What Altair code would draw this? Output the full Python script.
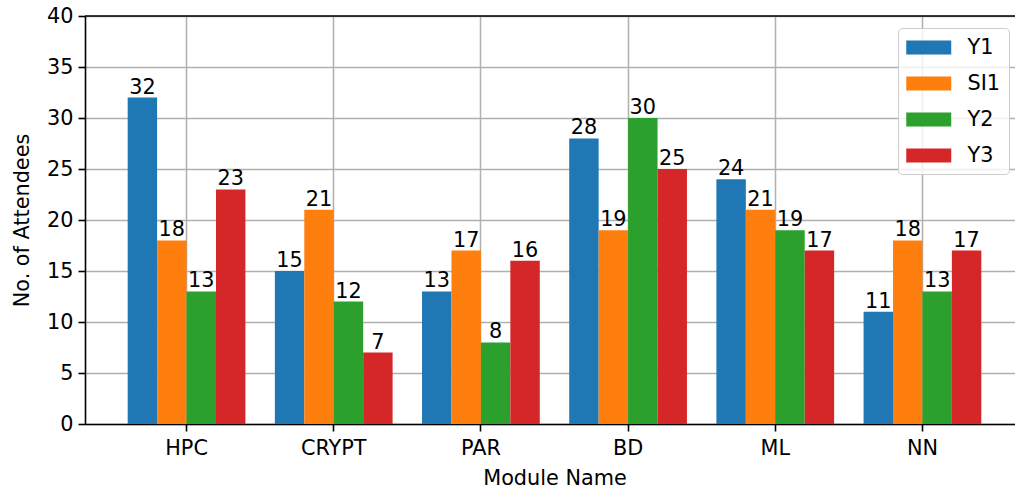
import altair as alt
import pandas as pd

# Attendance per module for each cohort
modules = ["HPC", "CRYPT", "PAR", "BD", "ML", "NN"]
series = ["Y1", "SI1", "Y2", "Y3"]
y1 = [32, 15, 13, 28, 24, 11]
si1 = [18, 21, 17, 19, 21, 18]
y2 = [13, 12, 8, 30, 19, 13]
y3 = [23, 7, 16, 25, 17, 17]
colors = ["#1f77b4", "#ff7f0e", "#2ca02c", "#d62728"]

rows = []
for name, vals in zip(series, [y1, si1, y2, y3]):
    for m, v in zip(modules, vals):
        rows.append({"Module": m, "Series": name, "Count": v})
df = pd.DataFrame(rows)

FONT = "DejaVu Sans"
FS = 20.8
W, H = 930, 408

x = alt.X(
    "Module:N",
    sort=modules,
    title="Module Name",
    scale=alt.Scale(range=[0, 939], paddingInner=0.2, paddingOuter=0.29),
    axis=alt.Axis(
        labelAngle=0,
        bandPosition=0.5,
        grid=True,
        tickSize=7,
        labelPadding=7,
        titlePadding=11,
    ),
)
xoff = alt.XOffset("Series:N", sort=series, scale=alt.Scale(paddingInner=0, paddingOuter=0))
y = alt.Y(
    "Count:Q",
    title="No. of Attendees",
    scale=alt.Scale(domain=[0, 40], nice=False),
    axis=alt.Axis(values=list(range(0, 41, 5)), tickSize=7, labelPadding=5, titlePadding=14),
)

base = alt.Chart(df)

bars = base.mark_bar().encode(
    x=x,
    xOffset=xoff,
    y=y,
    color=alt.Color(
        "Series:N",
        sort=series,
        scale=alt.Scale(domain=series, range=colors),
        legend=alt.Legend(
            title=None,
            orient="none",
            legendX=813,
            legendY=12,
            symbolType="M-1,-0.62H3V0.62H-1Z",
            symbolSize=506,
            symbolStrokeWidth=0,
            symbolOpacity=1,
            labelOffset=38.5,
            rowPadding=14,
            padding=8,
            fillColor="rgba(255,255,255,0.8)",
            strokeColor="#cccccc",
            cornerRadius=4,
            labelFont=FONT,
            labelFontSize=FS,
            labelColor="#000000",
        ),
    ),
)

labels = base.mark_text(baseline="alphabetic", dy=-4, font=FONT, fontSize=FS, color="#000000").encode(
    x=x,
    xOffset=xoff,
    y=y,
    text=alt.Text("Count:Q", format="d"),
)

top_spine = alt.Chart(pd.DataFrame({"k": [0]})).mark_rule(color="#000000", strokeWidth=1.6).encode(
    x=alt.value(0), x2=alt.value(W), y=alt.value(0)
)

chart = (
    alt.layer(bars, labels, top_spine)
    .properties(
        width=W,
        height=H,
        autosize=alt.AutoSizeParams(type="none"),
        padding={"left": 85, "top": 16, "right": 0, "bottom": 66},
    )
    .configure(font=FONT)
    .configure_view(stroke=None)
    .configure_axis(
        labelFont=FONT,
        labelFontSize=FS,
        labelColor="#000000",
        titleFont=FONT,
        titleFontSize=FS,
        titleFontWeight="normal",
        titleColor="#000000",
        domainColor="#000000",
        domainWidth=1.6,
        tickColor="#000000",
        tickWidth=1.6,
        gridColor="#b0b0b0",
        gridWidth=1.5,
    )
)

chart.save("out.html", embed_options={"renderer": "svg", "actions": False})
